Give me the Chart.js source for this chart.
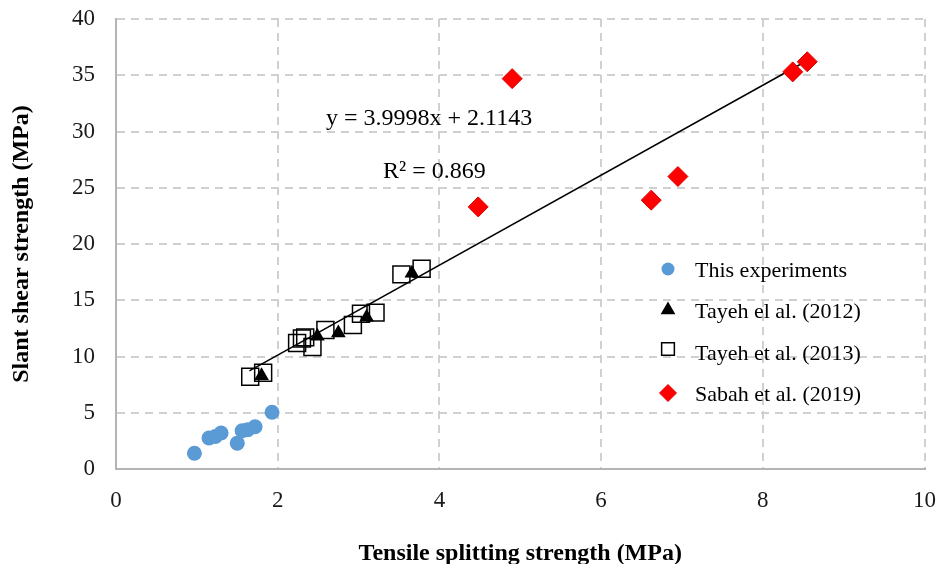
<!DOCTYPE html>
<html>
<head>
<meta charset="utf-8">
<script src="https://cdn.jsdelivr.net/npm/chart.js@4/dist/chart.umd.min.js"></script>
<style>
  html, body { margin: 0; padding: 0; background: #fff; overflow: hidden; }
  #wrap { width: 938px; height: 568px; }
</style>
</head>
<body>
<div id="wrap"><canvas id="chart" width="938" height="568"></canvas></div>
<script>
// ── Data ────────────────────────────────────────────────────────────────
const expX   = [0.97, 1.15, 1.23, 1.30, 1.50, 1.56, 1.63, 1.72, 1.93];
const expY   = [1.4, 2.75, 2.9, 3.2, 2.3, 3.4, 3.5, 3.75, 5.05];

const tayeh12X = [1.80, 2.49, 2.75, 3.10, 3.66];
const tayeh12Y = [8.3, 11.8, 12.1, 13.5, 17.4];

const tayeh13X = [1.66, 1.82, 2.24, 2.30, 2.34, 2.43, 2.59, 2.93, 3.03, 3.21, 3.53, 3.78];
const tayeh13Y = [8.2, 8.55, 11.2, 11.6, 11.7, 10.85, 12.35, 12.8, 13.8, 13.9, 17.3, 17.8];

const sabahX = [4.48, 4.90, 6.62, 6.95, 8.37, 8.55];
const sabahY = [23.3, 34.7, 23.9, 26.0, 35.3, 36.2];

// linear fit as printed on the chart
const fitSlope = 3.9998;
const fitIntercept = 2.1143;
const fitR2 = 0.869;
const fitRange = [1.65, 8.55];

const seriesNames = ['This experiments', 'Tayeh el al. (2012)', 'Tayeh et al. (2013)', 'Sabah et al. (2019)'];

const xTicks = [0, 2, 4, 6, 8, 10];
const yTicks = [0, 5, 10, 15, 20, 25, 30, 35, 40];

const pts = (xs, ys) => xs.map((x, i) => ({ x, y: ys[i] }));
const SERIF = '"Liberation Serif", "Times New Roman", serif';

const markerStyles = [
  { pointStyle: 'circle',   radius: 7.5, backgroundColor: '#5b9bd5', borderColor: '#5b9bd5', borderWidth: 0 },
  { pointStyle: 'triangle', radius: 8.5, backgroundColor: '#000000', borderColor: '#000000', borderWidth: 0 },
  { pointStyle: 'rect',     radius: 12,  backgroundColor: 'rgba(255,255,255,0)', borderColor: '#000000', borderWidth: 1.5 },
  { pointStyle: 'rectRot',  radius: 10,  backgroundColor: '#ff0000', borderColor: '#e00000', borderWidth: 1 },
];

const makeSet = (label, data, st, order) => ({
  label, data, order,
  pointStyle: st.pointStyle, pointRadius: st.radius, pointHoverRadius: st.radius,
  pointBackgroundColor: st.backgroundColor, pointBorderColor: st.borderColor, pointBorderWidth: st.borderWidth,
  showLine: false,
});

// ── Legend + fit label drawn inside the plot ───────────────────────────
const insideLabels = {
  id: 'insideLabels',
  afterDatasetsDraw(chart) {
    const { ctx } = chart;
    const drawPoint = Chart.helpers.drawPoint;
    ctx.save();

    // legend
    const rows = [271, 312, 354, 395];
    const legendSizes = [6.5, 8.5, 9, 8.5];
    rows.forEach((y, i) => {
      const st = markerStyles[i];
      ctx.fillStyle = i === 2 ? '#ffffff' : st.backgroundColor;
      ctx.strokeStyle = st.borderColor;
      ctx.lineWidth = st.borderWidth;
      drawPoint(ctx, { pointStyle: st.pointStyle, radius: legendSizes[i], borderWidth: st.borderWidth, rotation: 0 }, 668, i === 2 ? y - 5 : y - 2);
      ctx.fillStyle = '#000';
      ctx.font = `22px ${SERIF}`;
      ctx.textAlign = 'left';
      ctx.textBaseline = 'middle';
      ctx.fillText(seriesNames[i], 695, y);
    });

    // fit equation
    ctx.fillStyle = '#000';
    ctx.font = `24px ${SERIF}`;
    ctx.textBaseline = 'alphabetic';
    ctx.fillText(`y = ${fitSlope.toFixed(4)}x + ${fitIntercept.toFixed(4)}`, 326, 125);
    ctx.fillText(`R\u00B2 = ${fitR2}`, 383, 178);
    ctx.restore();
  }
};

const gridStyle = {
  color: '#d0d0d0',
  lineWidth: 2,
  drawTicks: false,
};

new Chart(document.getElementById('chart'), {
  type: 'scatter',
  data: {
    datasets: [
      {
        label: 'fit', type: 'line', order: 5,
        data: fitRange.map(x => ({ x, y: fitSlope * x + fitIntercept })),
        borderColor: '#000', borderWidth: 1.5, pointRadius: 0, fill: false,
      },
      makeSet(seriesNames[0], pts(expX, expY), markerStyles[0], 1),
      makeSet(seriesNames[1], pts(tayeh12X, tayeh12Y), markerStyles[1], 2),
      makeSet(seriesNames[2], pts(tayeh13X, tayeh13Y), markerStyles[2], 3),
      makeSet(seriesNames[3], pts(sabahX, sabahY), markerStyles[3], 0),
    ]
  },
  options: {
    responsive: false,
    animation: false,
    events: [],
    layout: { padding: { top: 19, right: 13, left: 7, bottom: 0 } },
    plugins: { legend: { display: false }, tooltip: { enabled: false } },
    scales: {
      x: {
        type: 'linear', min: 0, max: 10,
        afterBuildTicks: s => { s.ticks = xTicks.map(v => ({ value: v })); },
        afterFit: s => { s.height = 99; s.paddingLeft = 0; s.paddingRight = 0; },
        grid: { ...gridStyle },
        border: { display: true, color: '#b4b4b4', width: 2, dash: [8, 6] },
        ticks: { color: '#1a1a1a', padding: 18, font: { family: SERIF, size: 23 } },
        title: {
          display: true, text: 'Tensile splitting strength (MPa)', color: '#000',
          font: { family: SERIF, size: 24, weight: 'bold' }, padding: { top: 0, bottom: 0 }
        }
      },
      y: {
        type: 'linear', min: 0, max: 40,
        afterBuildTicks: s => { s.ticks = yTicks.map(v => ({ value: v })); },
        afterFit: s => { s.width = 109; s.paddingTop = 0; s.paddingBottom = 0; },
        grid: { ...gridStyle },
        border: { display: true, color: '#b4b4b4', width: 2, dash: [8, 6] },
        ticks: { color: '#1a1a1a', padding: 21, font: { family: SERIF, size: 23 } },
        title: {
          display: true, text: 'Slant shear strength (MPa)', color: '#000',
          font: { family: SERIF, size: 24, weight: 'bold' }, padding: { top: 0, bottom: 0 }
        }
      }
    }
  },
  plugins: [insideLabels]
});
</script>
</body>
</html>
